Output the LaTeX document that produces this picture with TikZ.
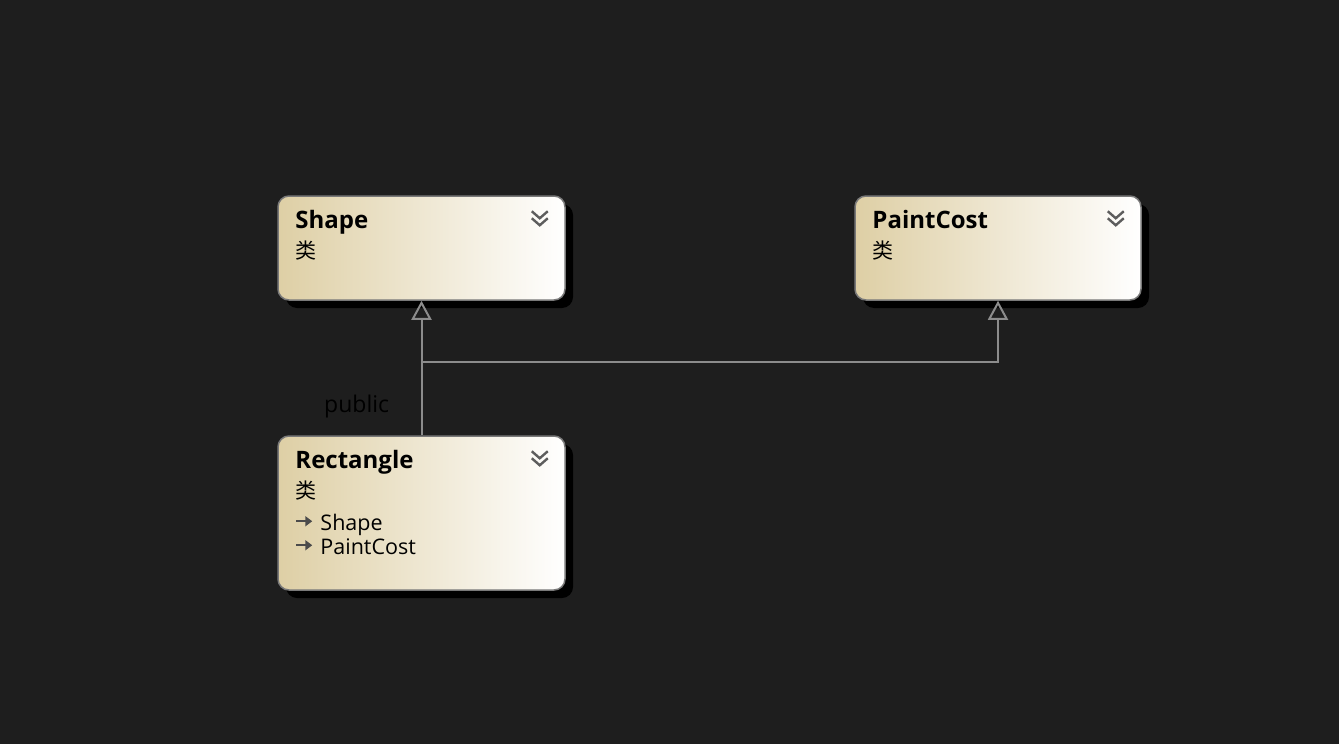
\documentclass[tikz,border=0pt]{standalone}
\usepackage{fontspec}
\setmainfont{Open Sans}
\newfontfamily\cjk{Noto Sans CJK SC}
\usetikzlibrary{arrows.meta,positioning,calc,shadows}
\definecolor{fondo}{RGB}{30,30,30}
\definecolor{borde}{RGB}{120,120,120}
\definecolor{arena}{RGB}{222,207,165}
\definecolor{linea}{RGB}{140,140,140}
\definecolor{icono}{RGB}{75,75,75}
\colorlet{chevron}{icono!90!white}

\begin{document}
\begin{tikzpicture}[x=1pt,y=-1pt,
  clase/.style={draw=borde,line width=1.5pt,rounded corners=11pt,left color=arena,right color=white,
    minimum width=287pt,inner sep=0pt,
    drop shadow={shadow xshift=8pt,shadow yshift=-8pt,fill=black,opacity=1}},
  titulo/.style={font=\fontsize{24}{28}\selectfont\bfseries,inner sep=0pt,anchor=base west},
  tipo/.style={font=\fontsize{21}{24}\selectfont\cjk,inner sep=0pt,anchor=base west},
  miembro/.style={font=\fontsize{21.5}{25}\selectfont,inner sep=0pt,anchor=base west},
  herencia/.style={draw=linea,line width=2pt,-{Triangle[open,width=20pt,length=19pt,line width=2pt]}},
  flechita/.style={icono,line width=2.2pt,-{Triangle[width=10pt,length=7pt]}}]
        \fill[fondo] (0,0) rectangle (1339,744);
        \useasboundingbox (0,0) rectangle (1339,744);
        % clases
        \node[clase,minimum height=104pt] (shape) at (421.5,248) {};
        \node[clase,minimum height=104pt,minimum width=286pt] (paintcost) at (998,248) {};
        \node[clase,minimum height=154pt] (rectangle) at (421.5,513) {};
        \foreach \c/\t in {shape/Shape,paintcost/PaintCost,rectangle/Rectangle} {
          \node[titulo] (\c-titulo) at ($(\c.north west)+(18,33)$) {\t};
          \node[tipo] (\c-tipo) at ($(\c.north west)+(18,63)$) {类};
          \draw[chevron,line width=2.4pt] ($(\c.north east)+(-34,16)$) -- ++(8,7) -- ++(8,-7);
          \draw[chevron,line width=2.4pt] ($(\c.north east)+(-34,23)$) -- ++(8,7) -- ++(8,-7);
        }
        % miembros de Rectangle
        \draw[flechita] ($(rectangle.north west)+(19,86)$) -- ++(16,0);
        \node[miembro] (base1) at ($(rectangle.north west)+(43,95)$) {Shape};
        \draw[flechita] ($(rectangle.north west)+(19,110)$) -- ++(16,0);
        \node[miembro] (base2) at ($(rectangle.north west)+(43,119)$) {PaintCost};
        % herencia
        \coordinate (union) at ($(rectangle.north)+(0,-73)$);
        \draw[herencia] (rectangle.north) -- (shape.south);
        \draw[herencia] (union) -| (paintcost.south);
        \node[miembro,font=\fontsize{23}{27}\selectfont,text=black] (acceso) at (324,412) {public};
      \end{tikzpicture}
\end{document}
